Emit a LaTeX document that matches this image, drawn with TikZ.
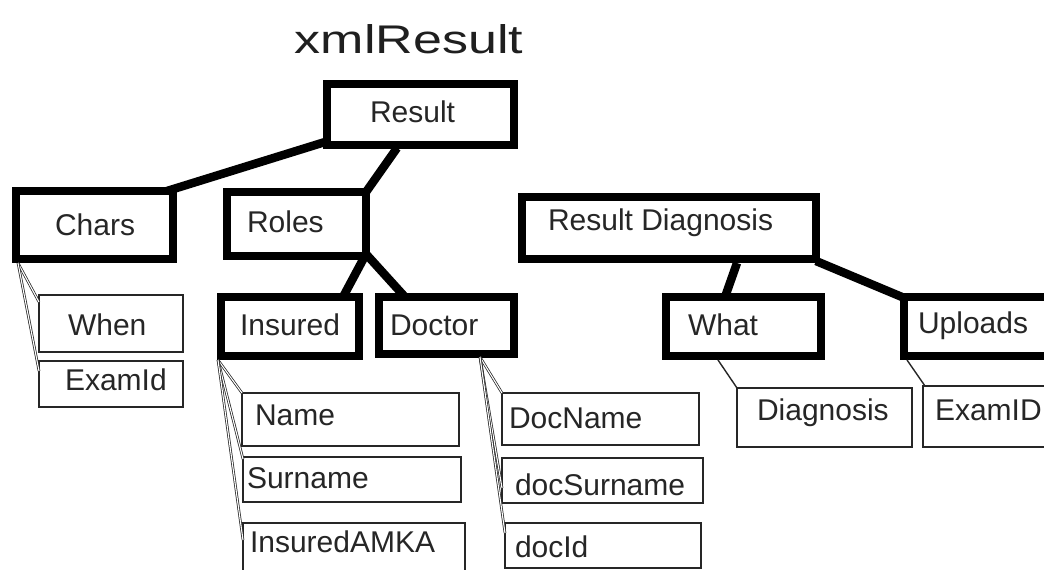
\documentclass[tikz,border=0pt]{standalone}
\usepackage{fontspec}
\setmainfont{Liberation Sans}
\begin{document}
\begin{tikzpicture}[x=1pt,y=-1pt,
  heavybox/.style={draw=black, line width=8.5pt, inner sep=0pt, outer sep=0pt},
  lightbox/.style={draw=black!85, line width=1.6pt, inner sep=0pt, outer sep=0pt},
  lbl/.style={inner sep=0pt, outer sep=0pt, anchor=base west, text=black!85,
              font=\fontsize{30}{32}\selectfont},
  link/.style={line width=8.5pt},
  pairline/.style={draw=black!85, double=white, double distance=1.1pt, line width=0.75pt},
  subline/.style={draw=black!85, line width=1.4pt}]

\clip (0,0) rectangle (1044,570);
\fill[white] (0,0) rectangle (1044,570);

% title
\node[inner sep=0pt, anchor=base, text=black!88, font=\fontsize{40}{44}\selectfont]
  (title) at (409,53) {\scalebox{1.3}[1]{xmlResult}};

% main (heavy) boxes
\node[heavybox, minimum width=187pt, minimum height=61pt] (result)  at (420.5,114.5) {};
\node[heavybox, minimum width=157pt, minimum height=68pt] (chars)   at (94.5,225) {};
\node[heavybox, minimum width=139pt, minimum height=64pt] (roles)   at (296.5,224) {};
\node[heavybox, minimum width=138pt, minimum height=59pt] (insured) at (290,326.5) {};
\node[heavybox, minimum width=135pt, minimum height=57pt] (doctor)  at (446.5,325.5) {};
\node[heavybox, minimum width=294pt, minimum height=62pt] (rdiag)   at (669,228) {};
\node[heavybox, minimum width=155pt, minimum height=59pt] (what)    at (743.5,326.5) {};
\node[heavybox, minimum width=156pt, minimum height=59pt] (uploads) at (982,326.5) {};

% leaf (light) boxes
\node[lightbox, minimum width=144pt, minimum height=57pt] (when)       at (111,323.5) {};
\node[lightbox, minimum width=144pt, minimum height=46pt] (examid)     at (111,384) {};
\node[lightbox, minimum width=217pt, minimum height=53pt] (name)       at (350.5,419.5) {};
\node[lightbox, minimum width=218pt, minimum height=45pt] (surname)    at (352,479.5) {};
\node[lightbox, minimum width=222pt, minimum height=52pt] (amka)       at (354,549) {};
\node[lightbox, minimum width=197pt, minimum height=52pt] (docname)    at (600.5,419) {};
\node[lightbox, minimum width=201pt, minimum height=45pt] (docsurname) at (602.5,480.5) {};
\node[lightbox, minimum width=196pt, minimum height=45pt] (docid)      at (603,545.5) {};
\node[lightbox, minimum width=175pt, minimum height=59pt] (diagnosis)  at (824.5,417.5) {};
\node[lightbox, minimum width=137pt, minimum height=61pt] (examupl)    at (991.5,416.5) {};

% labels
\node[lbl] (result-t)     at (370,122) {Result};
\node[lbl] (chars-t)      at (55,235)  {Chars};
\node[lbl] (roles-t)      at (247,232) {Roles};
\node[lbl] (insured-t)    at (240,335) {Insured};
\node[lbl] (doctor-t)     at (390,335) {Doctor};
\node[lbl] (rdiag-t)      at (548,230) {Result Diagnosis};
\node[lbl] (what-t)       at (688,335) {What};
\node[lbl] (uploads-t)    at (918,333) {Uploads};
\node[lbl] (when-t)       at (68,335)  {When};
\node[lbl] (examid-t)     at (65,390)  {ExamId};
\node[lbl] (name-t)       at (255,425) {Name};
\node[lbl] (surname-t)    at (247,488) {Surname};
\node[lbl] (amka-t)       at (250,552) {InsuredAMKA};
\node[lbl] (docname-t)    at (509,428) {DocName};
\node[lbl] (docsurname-t) at (515,495) {docSurname};
\node[lbl] (docid-t)      at (515,557) {docId};
\node[lbl] (diagnosis-t)  at (757,420) {Diagnosis};
\node[lbl] (examupl-t)    at (935,420) {ExamID};

% heavy connectors between the element boxes
\draw[link] ([xshift=-2pt,yshift=3pt]result.south west) -- ([xshift=-6pt]chars.north east);
\draw[link] ([xshift=70pt,yshift=-3pt]result.south west) -- (roles.north east);
\draw[link] ([yshift=2pt]roles.south east) -- ([xshift=-16pt]insured.north east);
\draw[link] ([yshift=2pt]roles.south east) -- ([xshift=26pt]doctor.north west);
\draw[link] ([xshift=215pt,yshift=-4pt]rdiag.south west) -- ([xshift=59pt]what.north west);
\draw[link] ([yshift=-2pt]rdiag.south east) -- ([xshift=-2pt]uploads.north west);

% thin connectors down to the leaf boxes
\draw[pairline] ([xshift=2pt,yshift=-4pt]chars.south west) -- ([yshift=-7pt]when.north west);
\draw[pairline] ([xshift=2pt,yshift=-4pt]chars.south west) -- ([yshift=-10pt]examid.north west);
\draw[pairline] ([xshift=-3pt,yshift=-4pt]insured.south west) -- (name.north west);
\draw[pairline] ([xshift=-3pt,yshift=-4pt]insured.south west) -- ([yshift=-2pt]surname.north west);
\draw[pairline] ([xshift=-3pt,yshift=-4pt]insured.south west) -- ([yshift=-17pt]amka.north west);
\draw[pairline] ([xshift=101pt,yshift=-3pt]doctor.south west) -- (docname.north west);
\draw[pairline] ([xshift=101pt,yshift=-3pt]doctor.south west) -- ([yshift=-30pt]docsurname.north west);
\draw[pairline] ([xshift=101pt,yshift=-3pt]doctor.south west) -- ([yshift=-10pt]docid.north west);
\draw[subline] ([xshift=52pt,yshift=-4pt]what.south west) -- (diagnosis.north west);
\draw[subline] ([xshift=3pt,yshift=-4pt]uploads.south west) -- ([xshift=2pt]examupl.north west);
\end{tikzpicture}
\end{document}
